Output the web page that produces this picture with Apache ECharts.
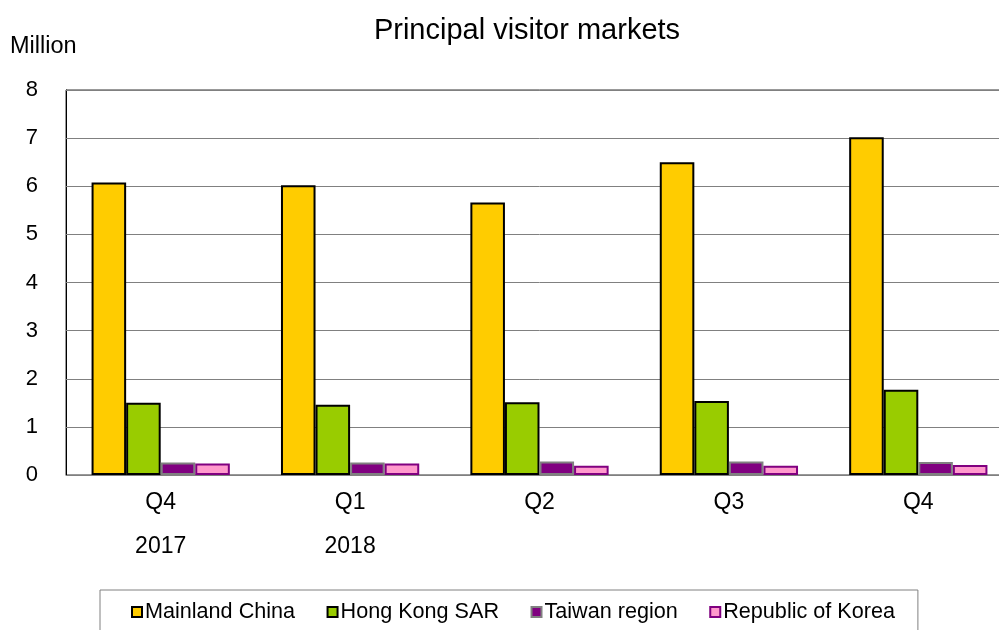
<!DOCTYPE html>
<html>
<head>
<meta charset="utf-8">
<script src="https://cdn.jsdelivr.net/npm/echarts@6/dist/echarts.min.js"></script>
<style>
html,body{margin:0;padding:0;background:#fff;overflow:hidden;}
#c{width:1016px;height:630px;}
</style>
</head>
<body>
<div id="c"></div>
<script>
const categories = ['Q4\n2017', 'Q1\n2018', 'Q2', 'Q3', 'Q4'];
const mainlandChina = [6.08, 6.02, 5.66, 6.50, 7.02];
const hongKongSAR = [1.50, 1.46, 1.51, 1.54, 1.77];
const taiwanRegion = [0.26, 0.26, 0.28, 0.28, 0.27];
const republicOfKorea = [0.24, 0.24, 0.19, 0.19, 0.21];
const yTicks = [0, 1, 2, 3, 4, 5, 6, 7, 8];

const FONT = '"Liberation Sans", Arial, sans-serif';
const chart = echarts.init(document.getElementById('c'), null, {renderer: 'canvas'});

const styles = {
  'Mainland China': {color: '#FFCC00', borderColor: '#000000', borderWidth: 2},
  'Hong Kong SAR': {color: '#99CC00', borderColor: '#000000', borderWidth: 2},
  'Taiwan region': {color: '#800080', borderColor: '#808080', borderWidth: 2},
  'Republic of Korea': {color: '#FF99CC', borderColor: '#800080', borderWidth: 2}
};
const seriesData = [
  ['Mainland China', mainlandChina],
  ['Hong Kong SAR', hongKongSAR],
  ['Taiwan region', taiwanRegion],
  ['Republic of Korea', republicOfKorea]
];

chart.setOption({
  animation: false,
  backgroundColor: '#ffffff',
  textStyle: {fontFamily: FONT},
  title: [
    {text: 'Principal visitor markets', left: 527, textAlign: 'center', top: 16, padding: 0,
     textStyle: {fontFamily: FONT, fontSize: 29, fontWeight: 'normal', color: '#000'}},
    {text: 'Million', left: 10, top: 35, padding: 0,
     textStyle: {fontFamily: FONT, fontSize: 23.5, fontWeight: 'normal', color: '#000'}}
  ],
  legend: {
    left: 100, top: 590,
    padding: [11, 23, 40, 31],
    borderColor: '#808080', borderWidth: 1,
    itemWidth: 10, itemHeight: 10, itemGap: 31.5,
    icon: 'rect',
    textStyle: {fontFamily: FONT, fontSize: 21.6, color: '#000', padding: [0, 0, 0, -2], lineHeight: 22},
    data: seriesData.map(s => ({name: s[0], itemStyle: styles[s[0]]}))
  },
  grid: {left: 66, top: 90, width: 947, height: 385, show: true, borderColor: '#333', borderWidth: 1, containLabel: false},
  xAxis: {
    type: 'category',
    data: categories,
    axisLine: {show: true, lineStyle: {color: '#808080', width: 1}},
    axisTick: {show: false},
    axisLabel: {fontFamily: FONT, fontSize: 23, color: '#000', lineHeight: 44, margin: 6, interval: 0}
  },
  yAxis: {
    type: 'value',
    min: yTicks[0], max: yTicks[yTicks.length - 1], interval: 1,
    axisLine: {show: true, lineStyle: {color: '#000', width: 1}},
    axisTick: {show: true, inside: true, length: 6, lineStyle: {color: '#808080'}},
    splitLine: {show: true, lineStyle: {color: '#808080', width: 1}},
    axisLabel: {fontFamily: FONT, fontSize: 22, color: '#000', margin: 28}
  },
  series: seriesData.map(s => ({
    name: s[0],
    type: 'bar',
    data: s[1],
    barGap: '0%',
    barCategoryGap: '27%',
    itemStyle: styles[s[0]]
  }))
});
</script>
</body>
</html>
